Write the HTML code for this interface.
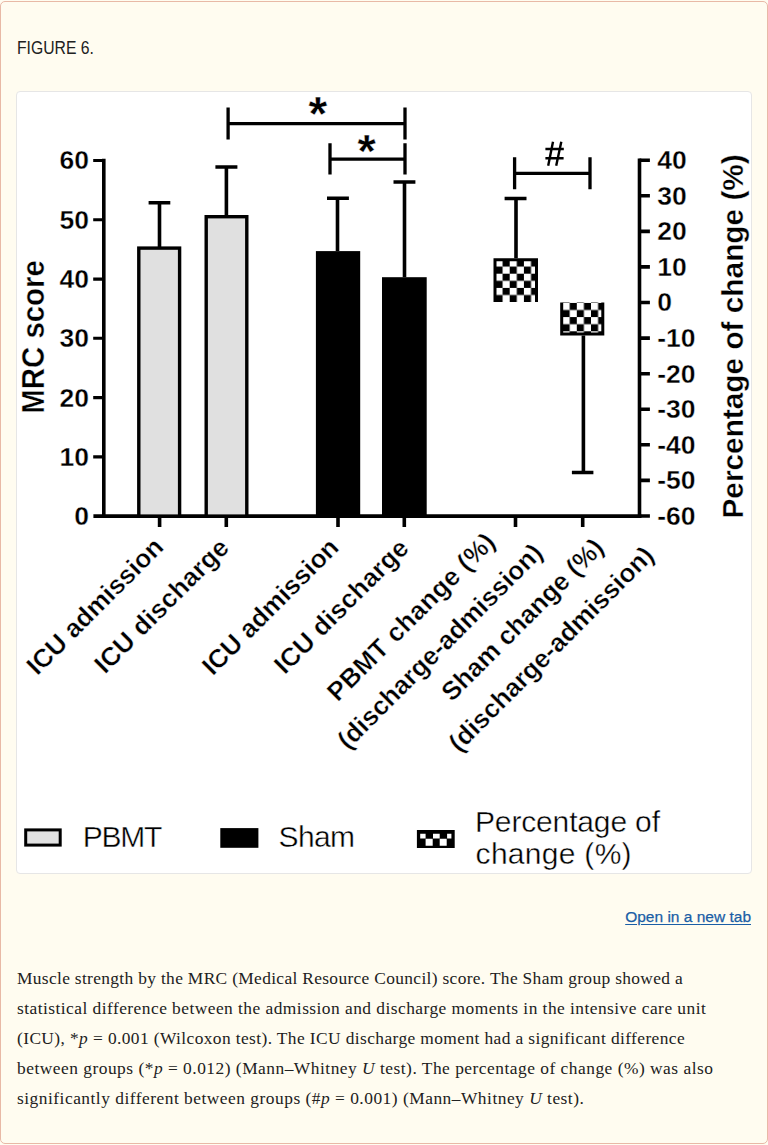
<!DOCTYPE html>
<html><head><meta charset="utf-8">
<style>
html,body{margin:0;padding:0;width:768px;height:1145px;overflow:hidden;background:#fffcf0;}
#outer{position:absolute;left:0;top:1px;width:766px;height:1141px;border:1px solid #e8b9a6;border-radius:5px;background:#fffcf0;}
#lbl{position:absolute;left:17.2px;top:37.6px;font-family:"Liberation Sans",sans-serif;font-size:17.8px;line-height:20px;transform:scaleX(0.885);transform-origin:0 0;color:#212121;white-space:nowrap;}
#fig{position:absolute;left:16px;top:91px;width:734px;height:781px;border:1px solid #e6e6e6;border-radius:4px;background:#fff;}
#link{position:absolute;right:17px;top:907.1px;font-family:"Liberation Sans",sans-serif;font-size:15.5px;line-height:20px;color:#1a5ea6;text-decoration:underline;text-underline-offset:1.8px;-webkit-text-stroke:0.25px #1a5ea6;white-space:nowrap;}
.cl{position:absolute;left:17px;font-family:"Liberation Serif",serif;font-size:17.4px;line-height:30px;color:#212121;white-space:nowrap;}
svg{position:absolute;left:0;top:0;}
</style></head><body>
<div id="outer"></div>
<div id="lbl">FIGURE 6.</div>
<div id="fig"></div>
<div id="link">Open in a new tab</div>
<div class="cl" style="top:962.85px;letter-spacing:0.331px">Muscle strength by the MRC (Medical Resource Council) score. The Sham group showed a</div>
<div class="cl" style="top:992.95px;letter-spacing:0.460px">statistical difference between the admission and discharge moments in the intensive care unit</div>
<div class="cl" style="top:1022.95px;letter-spacing:0.397px">(ICU), *<i>p</i> = 0.001 (Wilcoxon test). The ICU discharge moment had a significant difference</div>
<div class="cl" style="top:1053.05px;letter-spacing:0.496px">between groups (*<i>p</i> = 0.012) (Mann–Whitney <i>U</i> test). The percentage of change (%) was also</div>
<div class="cl" style="top:1082.85px;letter-spacing:0.496px">significantly different between groups (#<i>p</i> = 0.001) (Mann–Whitney <i>U</i> test).</div>
<svg width="768" height="1145" viewBox="0 0 768 1145">
<defs>
<pattern id="chk" patternUnits="userSpaceOnUse" width="14.2" height="14.2" x="495.5" y="259.5">
<rect x="0" y="0" width="14.2" height="14.2" fill="#fff"/>
<rect x="7.1" y="0" width="7.1" height="7.1" fill="#000"/>
<rect x="0" y="7.1" width="7.1" height="7.1" fill="#000"/>
</pattern>
<pattern id="chk2" patternUnits="userSpaceOnUse" width="14.2" height="14.2" x="562.6" y="302.9">
<rect x="0" y="0" width="14.2" height="14.2" fill="#fff"/>
<rect x="7.1" y="0" width="7.1" height="7.1" fill="#000"/>
<rect x="0" y="7.1" width="7.1" height="7.1" fill="#000"/>
</pattern>
</defs>
<g stroke="#000" stroke-width="3.6" fill="none" stroke-linecap="butt">
<path d="M103.8 158.7V518.1"/>
<path stroke-width="3.1" d="M93.2 160.5H103.3M93.2 219.8H103.3M93.2 279.1H103.3M93.2 338.3H103.3M93.2 397.6H103.3M93.2 456.9H103.3"/>
<path d="M93.4 516.1H641.3"/>
<path d="M159.6 516V527M226.3 516V527M338 516V527M404.3 516V527M515.5 516V527M582.7 516V527"/>
<path d="M639.5 158.4V517.9"/>
<path d="M639.5 160.2H649.9M639.5 195.8H649.9M639.5 231.4H649.9M639.5 266.9H649.9M639.5 302.5H649.9M639.5 338.1H649.9M639.5 373.7H649.9M639.5 409.3H649.9M639.5 444.8H649.9M639.5 480.4H649.9M639.5 516H649.9"/>
<rect x="138.8" y="248.1" width="40.8" height="268" fill="#e0e0e0" stroke-width="3.4"/>
<rect x="206.2" y="216.7" width="40.6" height="299.4" fill="#e0e0e0" stroke-width="3.4"/>
<rect x="315.9" y="251.1" width="44.3" height="265" fill="#000" stroke="none"/>
<rect x="382" y="277.2" width="44.7" height="239" fill="#000" stroke="none"/>
<path d="M159.5 248V202.7M148.6 202.7H170.3"/>
<path d="M226.4 216.7V167M215.4 167H237.4"/>
<path d="M337.5 251.1V198.2M327 198.2H348.9"/>
<path d="M404.5 277.2V182M393.5 182H415.4"/>
<path d="M516 258.2V198.5M504.6 198.5H526.5"/>
<path d="M583.4 335.4V472.5M571.9 472.5H593.4"/>
<rect x="496" y="260" width="40" height="42" fill="url(#chk)" stroke="none"/><path d="M495 302V259.7H536.5V302" stroke-width="3"/>
<rect x="562.5" y="302.5" width="40" height="31" fill="url(#chk2)" stroke="none"/><path d="M561.7 302.5V333.9H602.8V302.5" stroke-width="3"/>
<path stroke-width="3.3" d="M228.1 107.4V139.6M405 107.6V139.4M228.1 123.6H405"/>
<path stroke-width="3.3" d="M330 143.3V174.6M405 143.3V174.6M330 159.2H405"/>
<path stroke-width="3.3" d="M514.6 157.3V189.2M590 157.3V189.2M514.6 173.4H590"/>
</g>
<g font-family="Liberation Sans" font-weight="bold" font-size="26" fill="#000" stroke="#fff" stroke-width="0.35">
<g text-anchor="end" font-size="26.5">
<text x="89" y="169.3">60</text>
<text x="89" y="228.6">50</text>
<text x="89" y="287.9">40</text>
<text x="89" y="347.2">30</text>
<text x="89" y="406.5">20</text>
<text x="89" y="465.8">10</text>
<text x="89" y="524.9">0</text>
</g>
<g text-anchor="start" font-size="26.5">
<text x="657.3" y="169.0">40</text>
<text x="657.3" y="204.6">30</text>
<text x="657.3" y="240.2">20</text>
<text x="657.3" y="275.7">10</text>
<text x="657.3" y="311.3">0</text>
<text x="657.3" y="346.9">-10</text>
<text x="657.3" y="382.5">-20</text>
<text x="657.3" y="418.1">-30</text>
<text x="657.3" y="453.6">-40</text>
<text x="657.3" y="489.2">-50</text>
<text x="657.3" y="524.8">-60</text>
</g>
<text font-size="29.4" text-anchor="middle" transform="translate(44.3 336.9) rotate(-90) scale(1 1.08)">MRC score</text>
<text font-size="29.8" text-anchor="middle" transform="translate(743 336.4) rotate(-90)">Percentage of change (%)</text>
<g text-anchor="end" font-size="26">
<text transform="translate(165 548.6) rotate(-45)">ICU admission</text>
<text transform="translate(230.4 549.2) rotate(-45)" textLength="177.5" lengthAdjust="spacing">ICU discharge</text>
<text transform="translate(340.35 548.9) rotate(-45)">ICU admission</text>
<text transform="translate(410.2 549.7) rotate(-45)" textLength="177.5" lengthAdjust="spacing">ICU discharge</text>
<text transform="translate(496.75 543.5) rotate(-45)" textLength="225" lengthAdjust="spacing">PBMT change (%)</text>
<text transform="translate(544.1 554.4) rotate(-45)">(discharge-admission)</text>
<text transform="translate(605.2 549.2) rotate(-45)">Sham change (%)</text>
<text transform="translate(655.3 557) rotate(-45)">(discharge-admission)</text>
</g>
<text font-size="48" x="308.5" y="129.5">*</text>
<text font-size="47" x="357.4" y="166.8">*</text>
</g>
<path d="M553 141.8L548.2 165.8M561.3 141.8L556.2 165.8M545.4 149H563.8M545.4 158.2H563.6" stroke="#000" stroke-width="2.4" fill="none"/>
<rect x="25.7" y="829.9" width="34.5" height="15.2" fill="#e2e2e2" stroke="#000" stroke-width="3"/>
<rect x="220.3" y="828.1" width="38.1" height="19.7" fill="#000"/>
<rect x="416.9" y="830" width="37.8" height="18" fill="#000"/>
<path d="M420.2 833.7h5.4v4.7h-5.4zM433 833.7h6.7v4.7H433zM447.1 833.7h4.3v4.7h-4.3zM425.6 838.75h7.1v7h-7.1zM439.7 838.75h7v7h-7z" fill="#fff"/>
<g font-family="Liberation Sans" font-size="30" fill="#000" stroke="#fff" stroke-width="0.4">
<text x="82.8" y="847" textLength="79.5" lengthAdjust="spacing">PBMT</text>
<text x="278.5" y="847" textLength="76.5" lengthAdjust="spacing">Sham</text>
<text x="475" y="831.6" textLength="185" lengthAdjust="spacing">Percentage of</text>
<text x="475.6" y="863.8" textLength="156" lengthAdjust="spacing">change (%)</text>
</g>
</svg>
</body></html>
